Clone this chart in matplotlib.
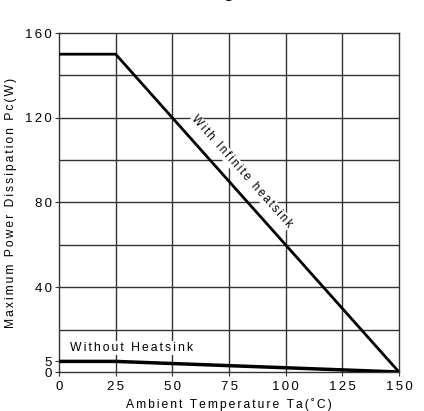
import matplotlib
matplotlib.use("Agg")
import matplotlib.pyplot as plt

plt.rcParams['font.family'] = ['Liberation Sans', 'DejaVu Sans']

temp_inf = [0, 25, 150]
power_inf = [150, 150, 0]
temp_none = [0, 25, 150]
power_none = [5, 5, 0]
xticks = [0, 25, 50, 75, 100, 125, 150]
yticks = [0, 5, 40, 80, 120, 160]
ygrid = [20, 40, 60, 80, 100, 120, 140]

SP = '\u2006'


def track(s):
    return SP.join(s)


fig = plt.figure(figsize=(4.24, 4.11), dpi=100)
ax = fig.add_axes([59/424, 1-372/411, 340/424, 339/411])

for x in xticks[1:-1]:
    ax.axvline(x, color='#333333', lw=1.0, zorder=1)
for y in ygrid:
    ax.axhline(y, color='#333333', lw=1.0, zorder=1)

ax.plot(temp_inf, power_inf, color='black', lw=2.0, zorder=3, solid_capstyle='butt')
ax.plot(temp_none, power_none, color='black', lw=2.5, zorder=3, solid_capstyle='butt')

ax.set_xlim(0, 150)
ax.set_ylim(0, 160)
ax.set_xticks(xticks)
ax.set_yticks(yticks)
ax.set_xticklabels([track(str(v)) for v in xticks])
ax.set_yticklabels([track(str(v)) for v in yticks])
ax.tick_params(axis='both', labelsize=9.5, length=3, width=0.8, color='#333333', pad=2)
ax.tick_params(axis='x', pad=3.5)
for s in ax.spines.values():
    s.set_color('#333333')
    s.set_linewidth(1.0)

ax.set_xlabel(track('Ambient Temperature Ta(˚C)'), fontsize=8.7, labelpad=3.5)
ax.set_ylabel(track('Maximum Power Dissipation Pc(W)'), fontsize=8.7, labelpad=6)

ax.text(80.5, 94.5, track('With Infinite heatsink'), rotation=-48.4, rotation_mode='anchor',
        ha='center', va='center', fontsize=8.3, zorder=4,
        bbox=dict(facecolor='white', edgecolor='none', pad=0.5))
ax.text(5, 9.9, track('Without Heatsink'), ha='left', va='baseline', fontsize=8.8, zorder=4,
        bbox=dict(facecolor='white', edgecolor='none', pad=0.5))

fig.text(228/424, 1.004, 'g', ha='center', va='baseline', fontsize=12, fontweight='bold')

fig.savefig('out.png', dpi=100)
